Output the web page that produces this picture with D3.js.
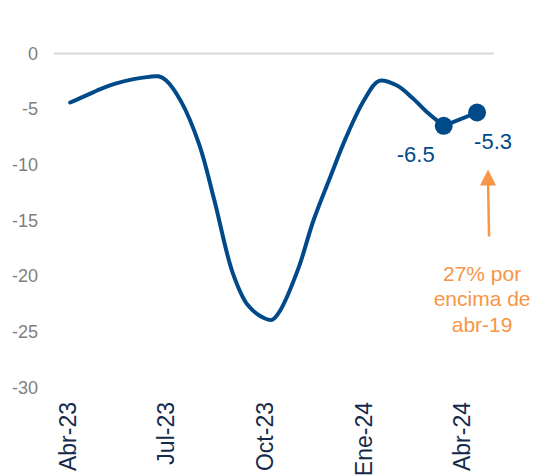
<!DOCTYPE html>
<html>
<head>
<meta charset="utf-8">
<script src="https://cdn.jsdelivr.net/npm/d3@7"></script>
<style>
	body { margin: 0; background: #fff; }
	svg { display: block; font-family: "Liberation Sans", Arial, sans-serif; }
</style>
</head>
<body>
<div id="fig-chart"><svg width="541" height="475"></svg></div>
<script>

// dates of the series (roughly twice a month)
const dates = [
	'2023-04-03', '2023-04-15', '2023-05-01', '2023-05-15', '2023-06-01', '2023-06-15',
	'2023-06-24', '2023-07-01', '2023-07-15', '2023-08-01', '2023-08-15', '2023-09-01',
	'2023-09-15', '2023-10-01', '2023-10-08', '2023-10-15', '2023-11-01', '2023-11-15',
	'2023-12-01', '2023-12-15', '2024-01-01', '2024-01-15', '2024-02-01', '2024-02-15',
	'2024-03-01', '2024-03-15', '2024-04-15'
];
const values = [
	-4.4, -3.9, -3.2, -2.7, -2.3, -2.1,
	-2.05, -2.4, -4.3, -8.2, -13.2, -19.7,
	-22.6, -23.8, -23.9, -23.1, -19.3, -15.0,
	-11.0, -7.6, -4.2, -2.45, -2.9, -4.0,
	-5.4, -6.5, -5.3
];

// last two values are highlighted with a marker and a label
const highlighted = ['2024-03-15', '2024-04-15'];

const yTicks = [0, -5, -10, -15, -20, -25, -30];
const xTickDates = ['2023-04-01', '2023-07-01', '2023-10-01', '2024-01-01', '2024-04-01'];
const xTickLabels = ['Abr-23', 'Jul-23', 'Oct-23', 'Ene-24', 'Abr-24'];

const noteLines = ['27% por', 'encima de', 'abr-19'];

function whenDocumentLoaded(action) {
	if (document.readyState === "loading") {
		document.addEventListener("DOMContentLoaded", action);
	} else {
		action();
	}
}

function drawChart(figElementId) {
	const svg = d3.select('#' + figElementId + ' svg');
	const parse = d3.timeParse('%Y-%m-%d');

	const lineColor = '#004a8a';
	const noteColor = '#f79646';

	const data = dates.map((d, i) => ({ date: parse(d), value: values[i] }));
	const points = data.filter(d => highlighted.includes(d3.timeFormat('%Y-%m-%d')(d.date)));

	// Scales
	const scaleX = d3.scaleTime()
		.domain([parse('2023-04-01'), parse('2024-04-01')])
		.range([68, 462]);
	const scaleY = d3.scaleLinear().domain([-30, 0]).range([387.5, 53.5]);

	// zero line
	svg.append('line')
		.attr('x1', 54).attr('x2', 494)
		.attr('y1', scaleY(0)).attr('y2', scaleY(0))
		.attr('stroke', '#d9d9d9')
		.attr('stroke-width', 2);

	// Y axis labels
	svg.append('g')
		.selectAll('text')
		.data(yTicks)
		.enter()
		.append('text')
		.attr('x', 38)
		.attr('y', d => scaleY(d))
		.attr('dy', '0.35em')
		.attr('text-anchor', 'end')
		.attr('font-size', 18)
		.attr('fill', '#7f7f7f')
		.text(d => d);

	// X axis labels, rotated
	svg.append('g')
		.selectAll('text')
		.data(xTickDates)
		.enter()
		.append('text')
		.attr('transform', d => `translate(${scaleX(parse(d))},402) rotate(-90)`)
		.attr('dy', '0.35em')
		.attr('text-anchor', 'end')
		.attr('font-size', 23)
		.attr('fill', '#152a4a')
		.text((d, i) => xTickLabels[i]);

	// main curve up to the first highlighted point, then a straight segment
	const smooth = d3.line()
		.x(d => scaleX(d.date))
		.y(d => scaleY(d.value))
		.curve(d3.curveCatmullRom.alpha(0.5));
	const straight = d3.line()
		.x(d => scaleX(d.date))
		.y(d => scaleY(d.value));

	const cut = data.length - points.length + 1;
	svg.append('path')
		.attr('d', smooth(data.slice(0, cut)))
		.attr('fill', 'none')
		.attr('stroke', lineColor)
		.attr('stroke-width', 4)
		.attr('stroke-linejoin', 'round')
		.attr('stroke-linecap', 'round');
	svg.append('path')
		.attr('d', straight(points))
		.attr('fill', 'none')
		.attr('stroke', lineColor)
		.attr('stroke-width', 4);

	// markers + labels
	svg.append('g')
		.selectAll('circle')
		.data(points)
		.enter()
		.append('circle')
		.attr('cx', d => scaleX(d.date))
		.attr('cy', d => scaleY(d.value))
		.attr('r', 9)
		.attr('fill', lineColor);

	svg.append('g')
		.selectAll('text')
		.data(points)
		.enter()
		.append('text')
		.attr('x', (d, i) => scaleX(d.date) + (i === 0 ? -28 : 16))
		.attr('y', d => scaleY(d.value) + 36)
		.attr('text-anchor', 'middle')
		.attr('font-size', 22)
		.attr('fill', lineColor)
		.text(d => d3.format('.1f')(d.value).replace('−', '-'));

	// annotation arrow + text under the last point
	const last = points[points.length - 1];
	const ax = scaleX(last.date) + 11;
	const tipY = scaleY(last.value) + 57;
	svg.append('line')
		.attr('x1', ax + 1).attr('y1', tipY + 67)
		.attr('x2', ax).attr('y2', tipY + 14)
		.attr('stroke', noteColor)
		.attr('stroke-width', 2.5);
	svg.append('path')
		.attr('d', `M${ax},${tipY} L${ax - 8},${tipY + 16} L${ax + 8},${tipY + 16} Z`)
		.attr('fill', noteColor);

	svg.append('g')
		.selectAll('text')
		.data(noteLines)
		.enter()
		.append('text')
		.attr('x', ax - 6)
		.attr('y', (d, i) => tipY + 111 + i * 25.5)
		.attr('text-anchor', 'middle')
		.attr('font-size', 21)
		.attr('fill', noteColor)
		.text(d => d);
}

whenDocumentLoaded(() => {
	drawChart('fig-chart');
});
</script>
</body>
</html>
